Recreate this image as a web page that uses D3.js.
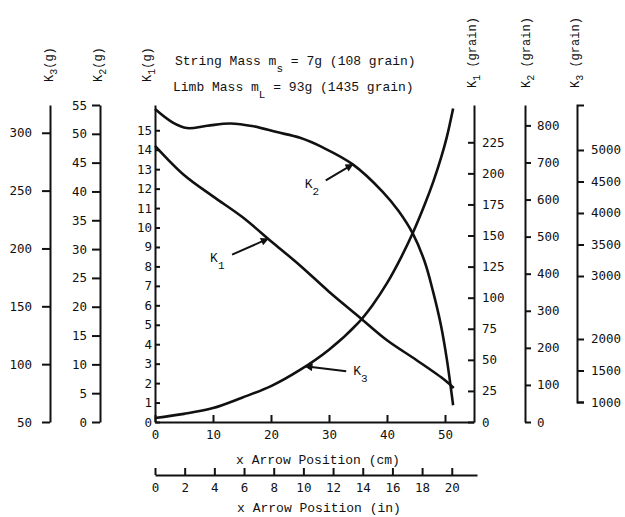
<!DOCTYPE html>
<html>
<head>
<meta charset="utf-8">
<script src="https://cdn.jsdelivr.net/npm/d3@7"></script>
<style>
  body { margin: 0; background: #fff; }
  svg { display: block; background: #fff; }
  .axis path, .axis line { stroke: #111; stroke-width: 2; }
  .axis text { font-family: "DejaVu Sans Mono", monospace; font-size: 12.5px; fill: #111; }
  .curve { fill: none; stroke: #111; stroke-width: 2.6; }
  .label { font-family: "Liberation Mono", monospace; font-size: 13px; fill: #111; }
  .pointer { stroke: #111; stroke-width: 2; }
</style>
</head>
<body>
<div id="wrapper"></div>
<script>
// tick values
const cmTicks = [0, 10, 20, 30, 40, 50];
const inchTicks = [0, 2, 4, 6, 8, 10, 12, 14, 16, 18, 20];
const k1GramTicks = [0, 1, 2, 3, 4, 5, 6, 7, 8, 9, 10, 11, 12, 13, 14, 15];
const k2GramTicks = [0, 5, 10, 15, 20, 25, 30, 35, 40, 45, 50, 55];
const k3GramTicks = [50, 100, 150, 200, 250, 300];
const k1GrainTicks = [0, 25, 50, 75, 100, 125, 150, 175, 200, 225];
const k2GrainTicks = [0, 100, 200, 300, 400, 500, 600, 700, 800];
const k3GrainTicks = [1000, 1500, 2000, 3000, 3500, 4000, 4500, 5000];

// curves: arrow position (cm) and K value (g)
const k1Position = [0, 5, 10, 15, 20, 25, 30, 35, 40, 45, 50, 51.5];
const k1Grams = [14.2, 12.7, 11.6, 10.55, 9.3, 8.05, 6.7, 5.45, 4.2, 3.2, 2.15, 1.75];

const k2Position = [0, 3, 5.5, 9, 13, 17, 21, 25, 29, 34.1, 39.3, 42, 44.5, 46.5, 47.9, 49.3, 50.3, 51.4];
const k2Grams = [54.3, 52.0, 51.0, 51.4, 51.8, 51.3, 50.3, 49.3, 47.6, 44.7, 39.9, 36.6, 32.6, 27.8, 22.8, 16.8, 11.0, 2.9];

const k3Position = [0, 5, 10, 15, 20, 25, 30, 35, 37.5, 40, 42.5, 44.5, 46.5, 48, 49.3, 50.3, 51.4];
const k3Grams = [53.5, 57, 62, 71, 81, 95, 112.5, 135.5, 151, 170, 193, 214, 238, 258, 278, 296, 321];

// where the label arrows touch each curve (cm)
const pointerNames = ["1", "2", "3"];
const pointerPosition = [19.5, 34.1, 25.9];

function drawChart() {
  const dimensions = {
    width: 625,
    height: 517,
    margin: { top: 105, right: 151, bottom: 95, left: 155 },
  };
  dimensions.boundedWidth =
    dimensions.width - dimensions.margin.left - dimensions.margin.right;
  dimensions.boundedHeight =
    dimensions.height - dimensions.margin.top - dimensions.margin.bottom;

  const wrapper = d3
    .select("#wrapper")
    .append("svg")
    .attr("width", dimensions.width)
    .attr("height", dimensions.height);

  wrapper
    .append("defs")
    .append("marker")
    .attr("id", "head")
    .attr("viewBox", "0 0 10 10")
    .attr("refX", 9)
    .attr("refY", 5)
    .attr("markerWidth", 5)
    .attr("markerHeight", 4)
    .attr("markerUnits", "strokeWidth")
    .attr("orient", "auto")
    .append("path")
    .attr("d", "M0,0 L10,5 L0,10 z")
    .attr("fill", "#111");

  const bounds = wrapper
    .append("g")
    .attr(
      "transform",
      `translate(${dimensions.margin.left},${dimensions.margin.top})`
    );

  const h = dimensions.boundedHeight;

  // scales
  const xScale = d3.scaleLinear().domain([0, 55]).range([0, dimensions.boundedWidth]);
  const inchScale = d3.scaleLinear().domain([0, 21.7]).range([0, 322]);

  const yK1Gram = d3.scaleLinear().domain([0, 16.3]).range([h, 0]);
  const yK2Gram = d3.scaleLinear().domain([0, 55]).range([h, 0]);
  const yK3Gram = d3.scaleLinear().domain([50, 324]).range([h, 0]);
  const yK1Grain = d3.scaleLinear().domain([0, 255]).range([h, 0]);
  const yK2Grain = d3.scaleLinear().domain([0, 855]).range([h, 0]);
  const yK3Grain = d3.scaleLinear().domain([1000, 5714]).range([297, 0]);

  const fmt = d3.format("d");

  const addAxis = (gen, x, y) =>
    bounds
      .append("g")
      .attr("class", "axis")
      .attr("transform", `translate(${x},${y})`)
      .call(gen);

  // left axes
  addAxis(
    d3.axisLeft(yK3Gram).tickValues(k3GramTicks).tickFormat(fmt)
      .tickSize(8).tickSizeOuter(0).tickPadding(10),
    -105, 0
  );
  addAxis(
    d3.axisLeft(yK2Gram).tickValues(k2GramTicks).tickFormat(fmt)
      .tickSize(8).tickSizeOuter(0).tickPadding(5),
    -55, 0
  );
  addAxis(
    d3.axisLeft(yK1Gram).tickValues(k1GramTicks).tickFormat(fmt)
      .tickSizeInner(-5).tickSizeOuter(0).tickPadding(3),
    0, 0
  );

  // right axes
  addAxis(
    d3.axisRight(yK1Grain).tickValues(k1GrainTicks).tickFormat(fmt)
      .tickSizeInner(-6).tickSizeOuter(0).tickPadding(8),
    dimensions.boundedWidth, 0
  );
  addAxis(
    d3.axisRight(yK2Grain).tickValues(k2GrainTicks).tickFormat(fmt)
      .tickSize(6).tickSizeOuter(0).tickPadding(6),
    dimensions.boundedWidth + 51, 0
  );
  addAxis(
    d3.axisRight(yK3Grain).tickValues(k3GrainTicks).tickFormat(fmt)
      .tickSize(7).tickPadding(7),
    dimensions.boundedWidth + 103, 0
  );

  // bottom axes
  addAxis(
    d3.axisBottom(xScale).tickValues(cmTicks).tickFormat(fmt)
      .tickSizeInner(-7).tickSizeOuter(0).tickPadding(8),
    0, h
  );
  addAxis(
    d3.axisBottom(inchScale).tickValues(inchTicks).tickFormat(fmt)
      .tickSizeInner(-7).tickSizeOuter(0).tickPadding(8),
    0, 370
  );

  // curves
  const series = [
    { pos: k1Position, val: k1Grams, y: yK1Gram },
    { pos: k2Position, val: k2Grams, y: yK2Gram },
    { pos: k3Position, val: k3Grams, y: yK3Gram },
  ];

  series.forEach((s) => {
    const line = d3
      .line()
      .x((d) => xScale(s.pos[d]))
      .y((d) => s.y(s.val[d]))
      .curve(d3.curveCatmullRom.alpha(0.5));
    bounds
      .append("path")
      .attr("class", "curve")
      .attr("d", line(d3.range(s.pos.length)));
  });

  // pointer labels K1, K2, K3
  const valueAt = (pos, val, x) => d3.scaleLinear().domain(pos).range(val)(x);
  const tail = [[-36, 16], [-27, 16], [41, 5]];
  const textAt = [[-58, 23], [-48, 24], [48, 9]];

  pointerNames.forEach((name, i) => {
    const s = series[i];
    const tx = xScale(pointerPosition[i]);
    const ty = s.y(valueAt(s.pos, s.val, pointerPosition[i]));
    bounds
      .append("line")
      .attr("class", "pointer")
      .attr("x1", tx + tail[i][0])
      .attr("y1", ty + tail[i][1])
      .attr("x2", tx)
      .attr("y2", ty)
      .attr("marker-end", "url(#head)");
    const t = bounds
      .append("text")
      .attr("class", "label")
      .attr("x", tx + textAt[i][0])
      .attr("y", ty + textAt[i][1]);
    t.append("tspan").text("K");
    t.append("tspan").attr("dy", 7).attr("font-size", 11).text(name);
  });

  // rotated axis titles
  const titles = [
    { x: 53, y: 82, sub: "3", unit: "(g)" },
    { x: 102, y: 82, sub: "2", unit: "(g)" },
    { x: 151, y: 82, sub: "1", unit: "(g)" },
    { x: 476, y: 88, sub: "1", unit: " (grain)" },
    { x: 530, y: 88, sub: "2", unit: " (grain)" },
    { x: 579, y: 88, sub: "3", unit: " (grain)" },
  ];
  titles.forEach((d) => {
    const t = wrapper
      .append("text")
      .attr("class", "label")
      .style("font-size", "12px")
      .attr("transform", `translate(${d.x},${d.y}) rotate(-90)`);
    t.append("tspan").text("K");
    t.append("tspan").attr("dy", 4).attr("font-size", 10).text(d.sub);
    t.append("tspan").attr("dy", -4).text(d.unit);
  });

  // header lines
  const header = [
    { x: 175, y: 65, head: "String Mass m", sub: "s", rest: " = 7g (108 grain)" },
    { x: 173, y: 91, head: "Limb Mass m", sub: "L", rest: " = 93g (1435 grain)" },
  ];
  header.forEach((d) => {
    const t = wrapper
      .append("text")
      .attr("class", "label")
      .attr("x", d.x)
      .attr("y", d.y);
    t.append("tspan").text(d.head);
    t.append("tspan").attr("dy", 7).attr("font-size", 11).text(d.sub);
    t.append("tspan").attr("dy", -7).text(d.rest);
  });

  // x titles
  wrapper
    .append("text")
    .attr("class", "label")
    .attr("x", 318)
    .attr("y", 464)
    .attr("text-anchor", "middle")
    .text("x Arrow Position (cm)");
  wrapper
    .append("text")
    .attr("class", "label")
    .attr("x", 319)
    .attr("y", 512)
    .attr("text-anchor", "middle")
    .text("x Arrow Position (in)");
}
drawChart();
</script>
</body>
</html>
